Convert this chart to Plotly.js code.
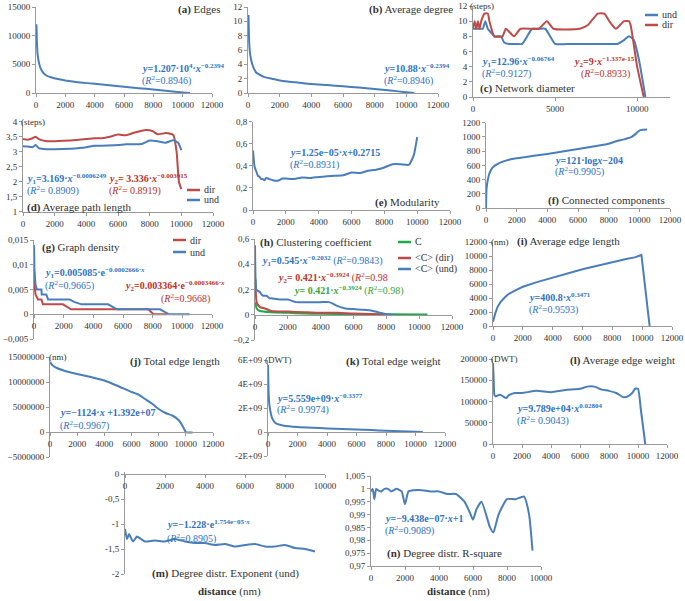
<!DOCTYPE html>
<html><head><meta charset="utf-8">
<script src="https://cdn.plot.ly/plotly-3.0.1.min.js"></script>
<style>body{margin:0;background:#fff}#chart{width:685px;height:601px}</style>
</head><body><div id="chart"></div><script>
// ---------------- DATA ----------------
// (a) Edges
const edgesX = [30, 60, 100, 150, 200, 300, 400, 500, 700, 1000, 1500, 2000, 2500, 3000, 4000, 5000, 6000, 7000, 8000, 9000, 10000, 10500];
const edgesY = [12000, 9000, 7000, 6000, 5300, 4400, 3900, 3500, 3050, 2750, 2450, 2200, 2000, 1850, 1600, 1350, 1080, 850, 600, 350, 100, 0];
// (b) Average degree
const degreeX = [30, 60, 100, 150, 200, 300, 400, 500, 700, 1000, 1500, 2000, 2500, 3000, 4000, 5000, 6000, 7000, 8000, 9000, 10000, 10500];
const degreeY = [10.9, 8, 6.2, 5.2, 4.6, 3.8, 3.3, 2.9, 2.6, 2.25, 2.0, 1.75, 1.6, 1.5, 1.25, 1.1, 0.93, 0.75, 0.56, 0.35, 0.1, 0];
// (c) Network diameter
const diamUndX = [0, 200, 400, 600, 750, 900, 1100, 1300, 1700, 1900, 2200, 2600, 3000, 3300, 3600, 4000, 4400, 4700, 5000, 6000, 7000, 8000, 8800, 9200, 9500, 9800, 10100, 10500];
const diamUndY = [9, 9, 9, 9, 10, 9, 8.5, 8, 8, 7.2, 7, 7, 7, 8, 9, 9, 9, 8, 7, 7, 7, 7, 7, 7.5, 8, 7.5, 5, 0];
const diamDirX = [0, 100, 200, 300, 400, 500, 700, 900, 1000, 1300, 1800, 2000, 2500, 2900, 4000, 4500, 4900, 6500, 7000, 7600, 8000, 8300, 8700, 9200, 9500, 9600, 10000, 10400];
const diamDirY = [9, 10, 9, 10, 9, 10, 11, 11, 10, 8, 8, 9, 8, 9, 9, 10, 9, 9, 9.5, 11, 11, 10, 9, 10, 10, 9.5, 4, 0];
// (d) Average path length
const pathDirX = [0, 300, 600, 800, 1000, 1500, 2000, 3000, 4000, 4500, 5000, 5500, 6000, 6500, 7000, 7500, 7800, 8200, 8500, 9000, 9300, 9500, 9700, 9850, 10000];
const pathDirY = [3.42, 3.4, 3.45, 3.5, 3.42, 3.35, 3.35, 3.37, 3.42, 3.45, 3.45, 3.5, 3.57, 3.55, 3.63, 3.7, 3.72, 3.68, 3.58, 3.62, 3.6, 3.55, 3.0, 2.0, 1.75];
const pathUndX = [0, 300, 600, 800, 1000, 1500, 2000, 3000, 4000, 4500, 5000, 6000, 6500, 7000, 7500, 8000, 8500, 9000, 9500, 9800, 10000];
const pathUndY = [3.18, 3.17, 3.15, 3.22, 3.12, 3.08, 3.08, 3.1, 3.15, 3.2, 3.2, 3.22, 3.25, 3.25, 3.26, 3.37, 3.35, 3.3, 3.38, 3.3, 3.05];
// (e) Modularity
const modX = [0, 50, 100, 200, 300, 400, 500, 600, 700, 800, 1000, 1200, 1500, 1800, 2000, 2500, 3000, 3500, 4000, 4500, 5000, 5500, 6000, 6500, 7000, 7500, 8000, 8500, 9000, 9500, 9800, 10000];
const modY = [0.54, 0.45, 0.39, 0.35, 0.31, 0.3, 0.28, 0.28, 0.27, 0.29, 0.28, 0.27, 0.265, 0.285, 0.285, 0.28, 0.295, 0.29, 0.3, 0.305, 0.31, 0.315, 0.34, 0.335, 0.355, 0.365, 0.385, 0.415, 0.415, 0.41, 0.5, 0.66];
// (f) Connected components
const compX = [0, 30, 80, 150, 250, 400, 600, 800, 1000, 1500, 2000, 3000, 4000, 5000, 6000, 7000, 8000, 8500, 9000, 9500, 9800, 10000, 10200, 10500];
const compY = [0, 250, 350, 430, 500, 560, 600, 625, 645, 680, 700, 730, 760, 795, 830, 865, 905, 940, 965, 1000, 1050, 1090, 1100, 1105];
// (g) Graph density
const densDirX = [0, 100, 270, 500, 600, 1950, 2500, 7700, 8060, 9000];
const densDirY = [0.007, 0.004, 0.003, 0.003, 0.002, 0.002, 0.001, 0.001, 0, 0];
const densUndX = [0, 30, 100, 200, 500, 520, 830, 950, 2400, 2700, 3200, 5000, 5300, 5600, 8500, 9100, 10500];
const densUndY = [0.014, 0.009, 0.006, 0.005, 0.005, 0.004, 0.004, 0.003, 0.003, 0.0025, 0.002, 0.002, 0.0015, 0.001, 0.001, 0, 0];
// (h) Clustering coefficient
const clusCX = [30, 100, 300, 1000, 2000, 3000, 4000, 6000, 8000, 10500];
const clusCY = [0.1, 0.05, 0.03, 0.02, 0.015, 0.01, 0.008, 0.005, 0.003, 0.002];
const clusDirX = [30, 100, 300, 600, 1000, 2000, 3000, 4000, 5000, 6000, 7000, 8000];
const clusDirY = [0.28, 0.1, 0.06, 0.05, 0.03, 0.025, 0.02, 0.015, 0.015, 0.01, 0.005, 0];
const clusUndX = [0, 30, 80, 150, 300, 400, 500, 700, 900, 1000, 1500, 2000, 2500, 3000, 3500, 4000, 4500, 4700, 5000, 5500, 6000, 6500, 7000, 7500, 8000, 8500];
const clusUndY = [0.55, 0.3, 0.2, 0.19, 0.18, 0.16, 0.15, 0.15, 0.13, 0.13, 0.12, 0.12, 0.1, 0.1, 0.1, 0.1, 0.1, 0.09, 0.07, 0.05, 0.045, 0.04, 0.035, 0.02, 0.005, 0];
// (i) Average edge length
const avgLenX = [0, 50, 150, 300, 500, 800, 1000, 1500, 2000, 3000, 4000, 5000, 6000, 7000, 8000, 8500, 9000, 9500, 9800, 9950, 10500];
const avgLenY = [600, 1200, 1800, 2700, 3400, 4100, 4500, 5100, 5600, 6300, 6900, 7600, 8100, 8600, 9100, 9450, 9600, 9800, 10100, 10150, 0];
// (j) Total edge length
const totLenX = [0, 200, 500, 1000, 2000, 3000, 4000, 5000, 6000, 6500, 7000, 7500, 8000, 8500, 9000, 9500, 9800, 10000, 10200, 10500];
const totLenY = [14e6, 13.3e6, 12.8e6, 12.3e6, 11.6e6, 11.0e6, 10.3e6, 9.2e6, 8.0e6, 7.5e6, 6.6e6, 5.7e6, 4.6e6, 3.8e6, 3.3e6, 2.3e6, 1.0e6, 0, -0.1e6, -0.1e6];
// (k) Total edge weight
const totWX = [0, 50, 100, 200, 300, 500, 800, 1000, 2000, 3000, 4000, 5000, 6000, 7000, 8000, 9000, 10000, 10500];
const totWY = [5.6e9, 3e9, 2.2e9, 1.5e9, 1.1e9, 0.75e9, 0.6e9, 0.55e9, 0.42e9, 0.35e9, 0.3e9, 0.25e9, 0.2e9, 0.16e9, 0.1e9, 0.06e9, 0.02e9, 0];
const totWTickVals = [-2e9, 0, 2e9, 4e9, 6e9];
const totWTickText = ['-2E+09', '0', '2E+09', '4E+09', '6E+09'];
// (l) Average edge weight
const avgWX = [0, 50, 100, 200, 300, 500, 700, 900, 1100, 1500, 2000, 3000, 4000, 5000, 6000, 6500, 7000, 7500, 8000, 8500, 9000, 9300, 9600, 9800, 10000, 10200, 10500];
const avgWY = [190000, 150000, 115000, 112000, 114000, 116000, 112000, 108000, 115000, 120000, 120000, 125000, 122000, 127000, 130000, 135000, 135000, 128000, 125000, 120000, 110000, 112000, 120000, 130000, 130000, 80000, 0];
// (m) Degree distribution exponent (und)
const expX = [0, 100, 200, 400, 600, 800, 1000, 1500, 2000, 2500, 3000, 3500, 4000, 4500, 5000, 5500, 6000, 6500, 7000, 7500, 8000, 8500, 9000, 9500];
const expY = [-1.1, -1.3, -1.2, -1.35, -1.25, -1.3, -1.35, -1.33, -1.35, -1.3, -1.35, -1.38, -1.38, -1.42, -1.4, -1.45, -1.42, -1.4, -1.45, -1.45, -1.42, -1.48, -1.5, -1.55];
const expTickVals = [-2, -1.5, -1, -0.5, 0];
const expTickText = ['-2', '-1,5', '-1', '-0,5', '0'];
// (n) Degree distribution R-square
const rsqX = [0, 100, 200, 300, 400, 600, 800, 1000, 1200, 1500, 1800, 2000, 2200, 2500, 3000, 3500, 4000, 4500, 5000, 5500, 5800, 6000, 6200, 6500, 7000, 7200, 7500, 8000, 8500, 9000, 9300, 9500];
const rsqY = [0.999, 1.0, 0.996, 1.0, 0.9995, 0.999, 1.0, 1.0, 0.999, 1.0, 0.999, 0.994, 0.999, 0.9995, 0.9995, 0.999, 0.999, 0.998, 0.998, 0.995, 0.991, 0.988, 0.992, 0.995, 0.985, 0.983, 0.99, 0.996, 0.996, 0.997, 0.99, 0.976];

// ---------------- LAYOUT ----------------
const W = 685, H = 601;
const fx = p => p / W, fy = p => 1 - p / H;
const FONT = 'Liberation Serif, DejaVu Serif, serif';
const BLUE = '#4a7ebb', RED = '#be4b48', GREEN = '#1faa4a';
const TBLUE = '#2f72c4', TRED = '#c0302a', TGREEN = '#3aa53a';
const AX = '#9a9a9a', TXT = '#333333';

// panel geometry in pixels: x pixels of xr[0],xr[1]; y pixels of yr[1](top), yr[0](bottom)
const panels = [
  {px:[36,212],  py:[7,93],     xr:[0,12000], yr:[0,15000],    xd:2000, yd:5000, yf:'d'},
  {px:[248,438], py:[7,93],     xr:[0,12000], yr:[0,12],       xd:2000, yd:2},
  {px:[473,670], py:[6,97],     xr:[0,12000], yr:[0,12],       xd:5000, yd:2},
  {px:[23,213],  py:[121.7,211.7], xr:[0,12000], yr:[1,4],     xd:2000, yd:0.5},
  {px:[253,450], py:[121.7,210], xr:[0,12000], yr:[0,0.8],     xd:2000, yd:0.2},
  {px:[486,670], py:[122.7,208], xr:[0,12000], yr:[0,1200],    xd:2000, yd:200, yf:'d'},
  {px:[34,212],  py:[240,339],  xr:[0,12000], yr:[-0.005,0.015], xd:2000, yd:0.005, free:true},
  {px:[255,452], py:[239,340],  xr:[0,12000], yr:[-0.2,0.6],   xd:2000, yd:0.2, free:true},
  {px:[493,672], py:[242,326],  xr:[0,12000], yr:[0,12000],    xd:2000, yd:2000, yf:'d'},
  {px:[50,213],  py:[357,457],  xr:[0,12000], yr:[-5e6,15e6],  xd:2000, yd:5e6, yf:'d', free:true},
  {px:[268,445], py:[360,456],  xr:[0,12000], yr:[-2e9,6e9],   xd:2000, tv:totWTickVals, tt:totWTickText, free:true},
  {px:[493,667], py:[359,444],  xr:[0,12000], yr:[0,200000],   xd:2000, yd:50000, yf:'d'},
  {px:[125,325], py:[472,574],  xr:[0,10000], yr:[-2,0.04],    xd:2000, tv:expTickVals, tt:expTickText, free:true},
  {px:[371,541], py:[476,566],  xr:[0,10000], yr:[0.97,1.005], xd:2000, yd:0.005}
];

const layout = {
  width: W, height: H, margin: {l:0, r:0, t:0, b:0},
  paper_bgcolor: '#fff', plot_bgcolor: 'rgba(0,0,0,0)',
  showlegend: false, separators: ', ',
  font: {family: FONT, size: 9, color: TXT},
  annotations: [], shapes: []
};

panels.forEach((p, i) => {
  const n = i + 1, sfx = n === 1 ? '' : String(n);
  const xa = {
    domain: [fx(p.px[0]), fx(p.px[1])], range: p.xr, dtick: p.xd, tick0: 0,
    showline: true, linecolor: AX, linewidth: 1, ticks: 'outside', ticklen: 3, tickcolor: AX,
    showgrid: false, zeroline: false, tickformat: 'd', fixedrange: true,
    tickfont: {family: FONT, size: 9, color: TXT}, anchor: 'y' + sfx
  };
  if (p.free) {
    const zeroPix = p.py[0] + (p.yr[1] - 0) / (p.yr[1] - p.yr[0]) * (p.py[1] - p.py[0]);
    xa.anchor = 'free'; xa.position = fy(zeroPix);
  }
  const ya = {
    domain: [fy(p.py[1]), fy(p.py[0])], range: p.yr,
    showline: true, linecolor: AX, linewidth: 1, ticks: 'outside', ticklen: 3, tickcolor: AX,
    showgrid: false, zeroline: false, fixedrange: true,
    tickfont: {family: FONT, size: 9, color: TXT}, anchor: 'x' + sfx
  };
  if (p.tv) { ya.tickmode = 'array'; ya.tickvals = p.tv; ya.ticktext = p.tt; }
  else { ya.dtick = p.yd; ya.tick0 = 0; }
  if (p.yf) ya.tickformat = p.yf;
  layout['xaxis' + sfx] = xa;
  layout['yaxis' + sfx] = ya;
});

const traces = [];
function line(n, x, y, color, name, shape) {
  const sfx = n === 1 ? '' : String(n);
  traces.push({type: 'scatter', mode: 'lines', x: x, y: y, name: name,
    xaxis: 'x' + sfx, yaxis: 'y' + sfx,
    line: {color: color, width: 2, shape: shape || 'spline', smoothing: 0.5},
    hoverinfo: 'skip'});
}
line(1, edgesX, edgesY, BLUE, 'Edges');
line(2, degreeX, degreeY, BLUE, 'Average degree');
line(3, diamUndX, diamUndY, BLUE, 'und');
line(3, diamDirX, diamDirY, RED, 'dir');
line(4, pathDirX, pathDirY, RED, 'dir');
line(4, pathUndX, pathUndY, BLUE, 'und');
line(5, modX, modY, BLUE, 'Modularity');
line(6, compX, compY, BLUE, 'Connected components');
line(7, densDirX, densDirY, RED, 'dir', 'linear');
line(7, densUndX, densUndY, BLUE, 'und', 'linear');
line(8, clusCX, clusCY, GREEN, 'C');
line(8, clusDirX, clusDirY, RED, '<C> (dir)');
line(8, clusUndX, clusUndY, BLUE, '<C> (und)');
line(9, avgLenX, avgLenY, BLUE, 'Average edge length', 'linear');
line(10, totLenX, totLenY, BLUE, 'Total edge length');
line(11, totWX, totWY, BLUE, 'Total edge weight');
line(12, avgWX, avgWY, BLUE, 'Average edge weight');
line(13, expX, expY, BLUE, 'Exponent');
line(14, rsqX, rsqY, BLUE, 'R-square');

// text helpers
function ann(x, y, text, color, size, xanchor) {
  layout.annotations.push({xref: 'paper', yref: 'paper', x: fx(x), y: fy(y), text: text,
    showarrow: false, xanchor: xanchor || 'left', yanchor: 'middle', align: xanchor || 'left',
    font: {family: FONT, size: size || 10, color: color || TXT}});
}
function legendItem(x, y, color, label) {
  layout.shapes.push({type: 'line', xref: 'paper', yref: 'paper', x0: fx(x), x1: fx(x + 13), y0: fy(y), y1: fy(y),
    line: {color: color, width: 2.5}});
  ann(x + 15, y, label, TXT, 10);
}
const R2 = v => '(<i>R</i><sup>2</sup>=' + v + ')';
const R2s = v => '(<i>R</i><sup>2</sup>= ' + v + ')';

// titles
ann(222, 10, '<b>(a)</b> Edges', TXT, 11, 'right');
ann(455, 10, '<b>(b)</b> Average degree', TXT, 11, 'right');
ann(478, 89, '<b>(c)</b> Network diameter', TXT, 11);
ann(25, 207, '<b>(d)</b> Average path length', TXT, 11);
ann(442, 203, '<b>(e)</b> Modularity', TXT, 11, 'right');
ann(667, 201, '<b>(f)</b> Connected components', TXT, 11, 'right');
ann(40, 247, '<b>(g)</b> Graph density', TXT, 11);
ann(258, 243, '<b>(h)</b> Clustering coefficient', TXT, 11);
ann(515, 241, '<b>(i)</b> Average edge length', TXT, 11);
ann(222, 361, '<b>(j)</b> Total edge length', TXT, 11, 'right');
ann(443, 361, '<b>(k)</b> Total edge weight', TXT, 11, 'right');
ann(677, 360, '<b>(l)</b> Average edge weight', TXT, 11, 'right');
ann(150, 573, '<b>(m)</b> Degree distr. Exponent (und)', TXT, 11);
ann(385, 553, '<b>(n)</b> Degree distr. R-square', TXT, 11);
ann(230, 591, '<b>distance</b> (nm)', TXT, 11, 'center');
ann(458, 591, '<b>distance</b> (nm)', TXT, 11, 'center');

// units next to top tick labels
ann(468, 6, '(steps)', TXT, 9);
ann(19, 121.7, '(steps)', TXT, 9);
ann(489, 242, '(nm)', TXT, 9);
ann(47, 357, '(nm)', TXT, 9);
ann(263, 360, '(DWT)', TXT, 9);
ann(489, 359, '(DWT)', TXT, 9);

// regression equations
ann(140, 68, '<b><i>y</i>=1.207·10<sup>4</sup>·<i>x</i><sup>−0.2394</sup></b>', TBLUE, 10);
ann(140, 80, R2('0.8946'), TBLUE, 10);
ann(382, 68, '<b><i>y</i>=10.88·<i>x</i><sup>−0.2394</sup></b>', TBLUE, 10);
ann(382, 80, R2('0.8946'), TBLUE, 10);
ann(480, 62, '<b><i>y</i><sub>1</sub>=12.96·<i>x</i><sup>−0.06764</sup></b>', TBLUE, 10);
ann(480, 73, R2('0.9127'), TBLUE, 10);
ann(572, 62, '<b><i>y</i><sub>2</sub>=9·<i>x</i><sup>−1.337e-15</sup></b>', TRED, 10);
ann(632, 73, R2('0.8933'), TRED, 10, 'right');
ann(25, 179, '<b><i>y</i><sub>1</sub>=3.169·<i>x</i><sup>−0.0006249</sup></b>', TBLUE, 10);
ann(25, 191, R2s('0.8909'), TBLUE, 10);
ann(107, 179, '<b><i>y</i><sub>2</sub>= 3.336·<i>x</i><sup>−0.003915</sup></b>', TRED, 10);
ann(107, 191, R2s('0.8919'), TRED, 10);
ann(288, 152, '<b><i>y</i>=1.25e−05·<i>x</i>+0.2715</b>', TBLUE, 10);
ann(288, 164, R2('0.8931'), TBLUE, 10);
ann(553, 160, '<b><i>y</i>=121·log<i>x</i>−204</b>', TBLUE, 10);
ann(553, 172, R2('0.9905'), TBLUE, 10);
ann(43, 273, '<b><i>y</i><sub>1</sub>=0.005085·e<sup>−0.0002666·<i>x</i></sup></b>', TBLUE, 10);
ann(43, 285, R2('0.9665'), TBLUE, 10);
ann(123, 286, '<b><i>y</i><sub>2</sub>=0.003364·e<sup>−0.0003466·<i>x</i></sup></b>', TRED, 10);
ann(212, 298, R2('0.9668'), TRED, 10, 'right');
ann(260, 261, '<b><i>y</i><sub>1</sub>=0.545·<i>x</i><sup>−0.2032</sup></b> ' + R2('0.9843'), TBLUE, 10);
ann(276, 278, '<b><i>y</i><sub>2</sub>= 0.421·<i>x</i><sup>−0.3924</sup></b> (<i>R</i><sup>2</sup>=0.98', TRED, 10);
ann(292, 290, '<b><i>y</i>= 0.421·<i>x</i><sup>−0.3924</sup></b> ' + R2('0.98'), TGREEN, 10);
ann(527, 297, '<b><i>y</i>=400.8·<i>x</i><sup>0.3471</sup></b>', TBLUE, 10);
ann(527, 309, R2('0.9593'), TBLUE, 10);
ann(58, 413, '<b><i>y</i>=−1124·<i>x</i> +1.392e+07</b>', TBLUE, 10);
ann(58, 425, R2('0.9967'), TBLUE, 10);
ann(275, 398, '<b><i>y</i>=5.559e+09·<i>x</i><sup>−0.3377</sup></b>', TBLUE, 10);
ann(275, 410, R2s('0.9974'), TBLUE, 10);
ann(515, 408, '<b><i>y</i>=9.789e+04·<i>x</i><sup>0.02804</sup></b>', TBLUE, 10);
ann(515, 420, R2s('0.9043'), TBLUE, 10);
ann(165, 524, '<b><i>y</i>=−1.228·e<sup>1.754e−05·<i>x</i></sup></b>', TBLUE, 10);
ann(165, 538, R2('0.8905'), TBLUE, 10);
ann(383, 518, '<b><i>y</i>=−9.438e−07·<i>x</i>+1</b>', TBLUE, 10);
ann(383, 530, R2('0.9089'), TBLUE, 10);

// legends
legendItem(645, 15, BLUE, 'und');
legendItem(645, 25, RED, 'dir');
legendItem(187, 190, RED, 'dir');
legendItem(187, 200, BLUE, 'und');
legendItem(173, 240, RED, 'dir');
legendItem(173, 252, BLUE, 'und');
legendItem(398, 242, GREEN, 'C');
legendItem(398, 258, RED, '&lt;C&gt; (dir)');
legendItem(398, 269, BLUE, '&lt;C&gt; (und)');

Plotly.newPlot('chart', traces, layout, {displayModeBar: false});
</script></body></html>
